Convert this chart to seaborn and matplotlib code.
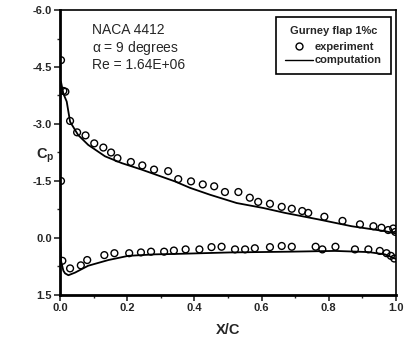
import numpy as np
import pandas as pd

import matplotlib
matplotlib.use('Agg')
import matplotlib.pyplot as plt
import seaborn as sns
from matplotlib.lines import Line2D

# experiment, upper (suction) surface
upper_x = [0.003, 0.010, 0.016, 0.030, 0.051, 0.076, 0.102, 0.129, 0.152, 0.171,
           0.211, 0.245, 0.280, 0.322, 0.352, 0.390, 0.425, 0.459, 0.491, 0.531,
           0.565, 0.590, 0.625, 0.660, 0.690, 0.721, 0.739, 0.787, 0.841, 0.893,
           0.933, 0.957, 0.977, 0.992, 0.998]
upper_cp = [-4.68, -3.87, -3.85, -3.08, -2.78, -2.70, -2.49, -2.38, -2.25, -2.10,
            -2.00, -1.91, -1.80, -1.76, -1.55, -1.49, -1.41, -1.36, -1.21, -1.21,
            -1.06, -0.95, -0.90, -0.82, -0.77, -0.71, -0.66, -0.56, -0.45, -0.36,
            -0.31, -0.27, -0.21, -0.25, -0.16]

# experiment, lower (pressure) surface
lower_x = [0.003, 0.007, 0.030, 0.062, 0.081, 0.132, 0.162, 0.206, 0.241, 0.271,
           0.310, 0.339, 0.374, 0.415, 0.451, 0.481, 0.521, 0.551, 0.580, 0.625,
           0.660, 0.690, 0.761, 0.781, 0.820, 0.878, 0.918, 0.952, 0.972, 0.985,
           0.995]
lower_cp = [-1.50, 0.60, 0.80, 0.72, 0.58, 0.45, 0.40, 0.40, 0.38, 0.36,
            0.36, 0.33, 0.30, 0.30, 0.24, 0.23, 0.30, 0.30, 0.27, 0.24,
            0.21, 0.23, 0.23, 0.30, 0.23, 0.30, 0.30, 0.34, 0.40, 0.47,
            0.54]

# computation, traced from upper TE round the nose to lower TE
comp_x = [1.000, 0.967, 0.868, 0.769, 0.670, 0.605, 0.526, 0.446, 0.387, 0.342,
          0.243, 0.184, 0.134, 0.084, 0.054, 0.030, 0.020, 0.010, 0.003, 0.000,
          0.000, 0.003, 0.010, 0.015, 0.025, 0.045, 0.084, 0.144, 0.203, 0.283,
          0.342, 0.506, 0.685, 0.818, 0.918, 0.967, 1.000]
comp_cp = [-0.12, -0.18, -0.31, -0.49, -0.66, -0.79, -0.92, -1.14, -1.32, -1.49,
           -1.80, -1.97, -2.15, -2.45, -2.71, -3.06, -3.59, -3.80, -4.11, -3.60,
           0.00, 0.60, 0.86, 0.93, 0.98, 0.91, 0.73, 0.58, 0.47, 0.43,
           0.42, 0.38, 0.36, 0.34, 0.37, 0.43, 0.55]

exp = pd.DataFrame({'x': upper_x + lower_x, 'cp': upper_cp + lower_cp})
comp = pd.DataFrame({'x': comp_x, 'cp': comp_cp})

sns.set_style('ticks')
plt.rcParams['font.family'] = ['Liberation Sans', 'DejaVu Sans']
plt.rcParams['mathtext.fontset'] = 'custom'
plt.rcParams['mathtext.rm'] = 'Liberation Sans:bold'
plt.rcParams['mathtext.it'] = 'Liberation Sans'
plt.rcParams['mathtext.bf'] = 'Liberation Sans:bold'

fig = plt.figure(figsize=(4.04, 3.39), dpi=100)
ax = fig.add_axes([0.1485, 0.1298, 0.8315, 0.8407])

sns.lineplot(data=comp, x='x', y='cp', sort=False, estimator=None, errorbar=None,
             color='black', lw=1.3, ax=ax)
sns.scatterplot(data=exp, x='x', y='cp', marker='o', s=24, facecolor='none',
                edgecolor='black', linewidth=1.0, ax=ax, zorder=3)

ax.set_xlim(0, 1)
ax.set_ylim(1.5, -6.0)
ax.set_xticks(np.arange(0, 1.01, 0.2))
ax.set_xticks(np.arange(0, 1.01, 0.1), minor=True)
ax.set_yticks(np.arange(-6.0, 1.51, 1.5))
ax.set_yticks(np.arange(-6.0, 1.51, 0.75), minor=True)
ax.xaxis.set_major_formatter(matplotlib.ticker.FormatStrFormatter('%.1f'))
ax.yaxis.set_major_formatter(matplotlib.ticker.FormatStrFormatter('%.1f'))
ax.tick_params(which='major', direction='out', length=4, width=1.2, labelsize=8, pad=2)
ax.tick_params(which='minor', direction='out', length=2.5, width=1.0)
for lab in ax.get_xticklabels() + ax.get_yticklabels():
    lab.set_fontweight('bold')
for sp in ax.spines.values():
    sp.set_visible(True)
    sp.set_linewidth(1.2)
    sp.set_color('black')
ax.spines['left'].set_linewidth(2.0)
ax.spines['bottom'].set_linewidth(2.0)

ax.set_xlabel('X/C', fontsize=10.5, fontweight='bold', labelpad=7)
ax.set_ylabel(r'C$_\mathregular{p}$', fontsize=10.5, fontweight='bold', rotation=0)
ax.yaxis.set_label_coords(-0.045, 0.455)

ax.text(0.095, 0.93, 'NACA 4412', transform=ax.transAxes, fontsize=10,
        va='center', ha='left')
ax.text(0.095, 0.867, r'$\alpha$ = 9 degrees', transform=ax.transAxes, fontsize=10,
        va='center', ha='left')
ax.text(0.095, 0.807, 'Re = 1.64E+06', transform=ax.transAxes, fontsize=10,
        va='center', ha='left')

handles = [Line2D([], [], marker='o', ls='none', mfc='none', mec='black', ms=5),
           Line2D([], [], color='black', lw=1.0)]
leg = ax.legend(handles, ['experiment', 'computation'], title='Gurney flap 1%c',
                loc='upper right', bbox_to_anchor=(0.985, 0.975), fontsize=8,
                title_fontsize=8, frameon=True, fancybox=False, framealpha=1,
                edgecolor='black', handlelength=2.5, borderpad=0.8,
                labelspacing=0.35, handletextpad=0.2, borderaxespad=0)
leg.get_frame().set_linewidth(1.2)
leg.get_title().set_fontweight('bold')
leg._legend_box.sep = 4
for t in leg.get_texts():
    t.set_fontweight('bold')

fig.savefig('out.png', dpi=100)
plt.close(fig)
